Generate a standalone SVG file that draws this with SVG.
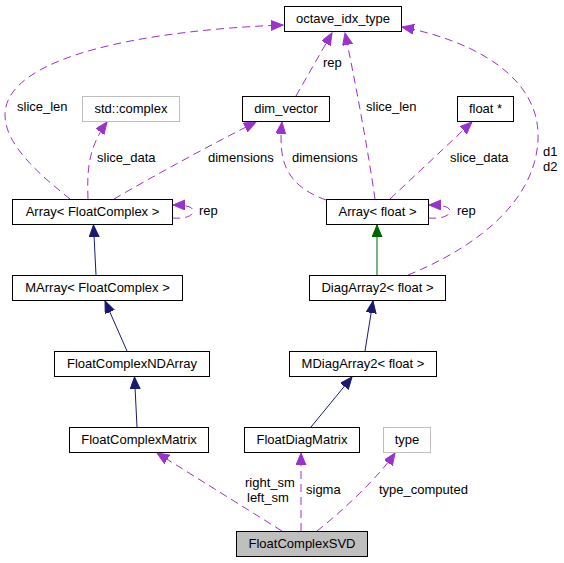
<svg xmlns="http://www.w3.org/2000/svg" width="564" height="563" viewBox="0 0 564 563">
<style>
text{font-family:"Liberation Sans",Arial,Helvetica,sans-serif;font-size:13px;fill:#000}
.n text{text-anchor:middle}
.n rect{fill:#fff;stroke:#000;stroke-width:1}
.n rect.g{stroke:#bfbfbf}
.n rect.cur{fill:#bfbfbf}
.e{fill:none;stroke-width:1}
.u{stroke:#9a32cd;stroke-dasharray:8,5;marker-end:url(#ap)}
.b{stroke:#191970;marker-end:url(#ab)}
.gr{stroke:#006400;marker-end:url(#ag)}
</style>
<defs>
<marker id="ap" markerUnits="userSpaceOnUse" markerWidth="14" markerHeight="12" refX="12" refY="5" orient="auto"><path d="M0,0 L12,5 L0,10 z" fill="#9a32cd" stroke="#9a32cd"/></marker>
<marker id="ab" markerUnits="userSpaceOnUse" markerWidth="14" markerHeight="12" refX="12" refY="5" orient="auto"><path d="M0,0 L12,5 L0,10 z" fill="#191970" stroke="#191970"/></marker>
<marker id="ag" markerUnits="userSpaceOnUse" markerWidth="14" markerHeight="12" refX="12" refY="5" orient="auto"><path d="M0,0 L12,5 L0,10 z" fill="#006400" stroke="#006400"/></marker>
</defs>
<rect width="564" height="563" fill="#fff"/>
<g id="edges">
<path class="e u" d="M70,199 C40,175 5,145 5,115 C5,55 150,30 283,25"/>
<text x="17" y="111">slice_len</text>
<path class="e u" d="M88,199 C87,170 88,148 107,122"/>
<text x="97" y="162">slice_data</text>
<path class="e u" d="M114,199 C150,178 210,145 256,122"/>
<text x="208" y="162">dimensions</text>
<path class="e u" d="M172,218 C185,219 193,216 193,211 C193,207 187,205 173,205"/>
<text x="199" y="215">rep</text>
<path class="e u" d="M296,96 L332,33"/>
<text x="323" y="67">rep</text>
<path class="e u" d="M375,199 C368,150 355,80 345,33"/>
<text x="366" y="111">slice_len</text>
<path class="e u" d="M326,200 C285,185 278,160 282,122"/>
<text x="292" y="162">dimensions</text>
<path class="e u" d="M390,199 L472,122"/>
<text x="450" y="162">slice_data</text>
<path class="e u" d="M428,218 C441,219 450,216 450,211 C450,207 443,205 429,205"/>
<text x="457" y="215">rep</text>
<path class="e u" d="M408,275 C470,250 535,205 538,140 C541,75 470,40 402,27"/>
<text x="543" y="156">d1</text>
<text x="543" y="171">d2</text>
<path class="e gr" d="M377,275 L377,225"/>
<path class="e b" d="M96,275 L93.5,225"/>
<path class="e b" d="M127,351 L105,301"/>
<path class="e b" d="M137,427 L134.5,377"/>
<path class="e b" d="M365,351 L373,301"/>
<path class="e b" d="M311,427 L352,377"/>
<path class="e u" d="M282,531 L157,453"/>
<text x="245" y="487">right_sm</text>
<text x="247" y="502">left_sm</text>
<path class="e u" d="M301,531 L301,453"/>
<text x="306" y="494">sigma</text>
<path class="e u" d="M317,531 C340,513 378,478 395,453"/>
<text x="379" y="494">type_computed</text>
</g>
<g id="octave_idx_type" class="n"><rect x="284.5" y="6.5" width="117" height="25"/><text x="343" y="23">octave_idx_type</text></g>
<g id="dim_vector" class="n"><rect x="242.5" y="96.5" width="87" height="25"/><text x="286" y="113">dim_vector</text></g>
<g id="std_complex" class="n"><rect class="g" x="82.5" y="96.5" width="97" height="25"/><text x="131" y="113">std::complex</text></g>
<g id="float_ptr" class="n"><rect x="457.5" y="96.5" width="56" height="25"/><text x="485.5" y="113">float *</text></g>
<g id="Array_FloatComplex" class="n"><rect x="12.5" y="199.5" width="160" height="25"/><text x="92.5" y="216">Array&lt; FloatComplex &gt;</text></g>
<g id="Array_float" class="n"><rect x="326.5" y="199.5" width="102" height="25"/><text x="377.5" y="216">Array&lt; float &gt;</text></g>
<g id="MArray_FloatComplex" class="n"><rect x="12.5" y="275.5" width="170" height="25"/><text x="97.5" y="292">MArray&lt; FloatComplex &gt;</text></g>
<g id="DiagArray2_float" class="n"><rect x="309.5" y="275.5" width="136" height="25"/><text x="377.5" y="292">DiagArray2&lt; float &gt;</text></g>
<g id="FloatComplexNDArray" class="n"><rect x="54.5" y="351.5" width="155" height="25"/><text x="132" y="368">FloatComplexNDArray</text></g>
<g id="MDiagArray2_float" class="n"><rect x="289.5" y="351.5" width="147" height="25"/><text x="363" y="368">MDiagArray2&lt; float &gt;</text></g>
<g id="FloatComplexMatrix" class="n"><rect x="69.5" y="427.5" width="139" height="25"/><text x="139" y="444">FloatComplexMatrix</text></g>
<g id="FloatDiagMatrix" class="n"><rect x="244.5" y="427.5" width="115" height="25"/><text x="302" y="444">FloatDiagMatrix</text></g>
<g id="type" class="n"><rect class="g" x="383.5" y="427.5" width="47" height="25"/><text x="407" y="444">type</text></g>
<g id="FloatComplexSVD" class="n"><rect class="cur" x="236.5" y="531.5" width="131" height="25"/><text x="302" y="548">FloatComplexSVD</text></g>
</svg>
